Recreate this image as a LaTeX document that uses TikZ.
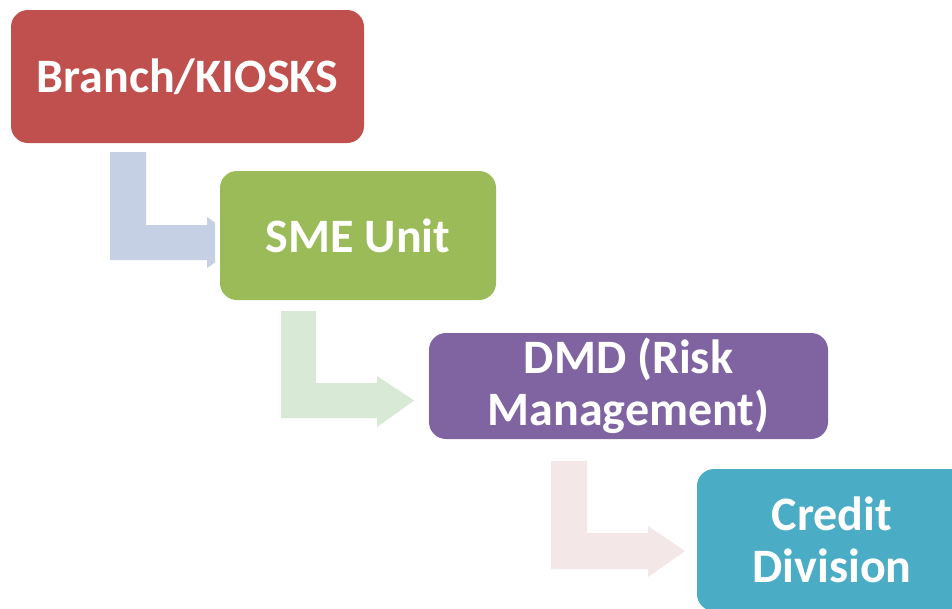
\documentclass[tikz,border=0pt]{standalone}
\usepackage{fontspec}
\setmainfont{Carlito}
\definecolor{stepred}{HTML}{C0504D}
\definecolor{stepgreen}{HTML}{9BBB59}
\definecolor{steppurple}{HTML}{8064A2}
\definecolor{stepblue}{HTML}{4BACC6}
\definecolor{bendblue}{HTML}{C5D0E4}
\definecolor{bendgreen}{HTML}{D8E9D6}
\definecolor{bendpink}{HTML}{F3E7E7}
\begin{document}
\begin{tikzpicture}[x=1pt,y=-1pt,
  stagebox/.style={rounded corners=17pt, draw=none, text=white, align=center,
    inner sep=0pt, font=\fontsize{48}{52}\selectfont\bfseries}]
\clip (0,0) rectangle (952,608);
\fill[white] (0,0) rectangle (952,608);

% bent arrows between the stages
\fill[bendblue] (110,152) -- (146,152) -- (146,225) -- (207,225) -- (207,217)
  -- (215,222.5) -- (215,262.5) -- (207,268) -- (207,260) -- (110,260) -- cycle;
\fill[bendgreen] (281,311) -- (316,311) -- (316,383) -- (377,383) -- (377,376)
  -- (414,400.5) -- (377,427) -- (377,418) -- (281,418) -- cycle;
\fill[bendpink] (551,461) -- (587,461) -- (587,533) -- (648,533) -- (648,526)
  -- (685,551) -- (648,577) -- (648,569) -- (551,569) -- cycle;

% stages
\node[stagebox, fill=stepred, minimum width=353pt, minimum height=133pt]
  (branch) at (187.5,76.5) {Branch/KIOSKS};
\node[stagebox, fill=stepgreen, minimum width=276pt, minimum height=129pt]
  (sme) at (358,235.5) {SME Unit};
\node[stagebox, fill=steppurple, minimum width=399pt, minimum height=106pt]
  (dmd) at (628.5,386) {DMD (Risk\\Management)};
\node[stagebox, fill=stepblue, minimum width=270pt, minimum height=142pt]
  (credit) at (832,540) {Credit\\Division};
\end{tikzpicture}
\end{document}
